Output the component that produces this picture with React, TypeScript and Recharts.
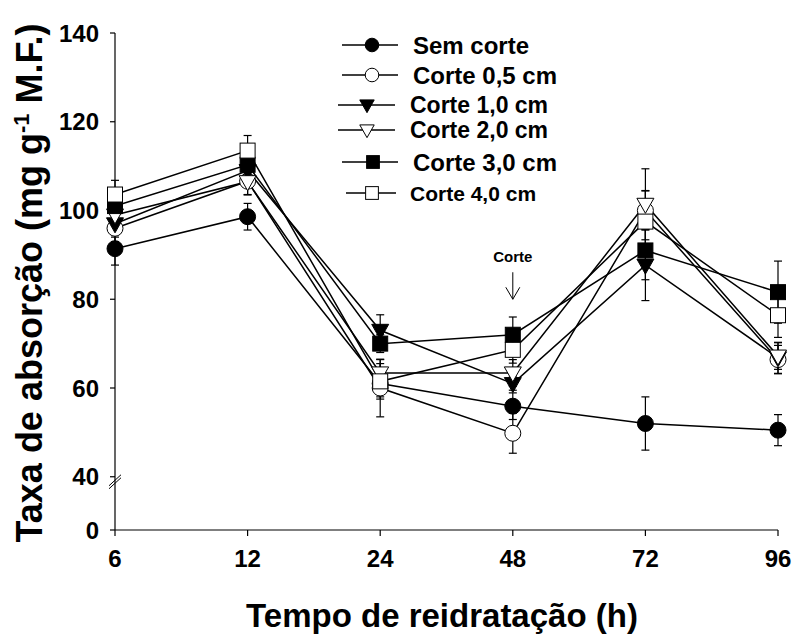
import { LineChart, Line, XAxis, YAxis, ErrorBar, ReferenceDot } from 'recharts';

// tempo de reidratação (h)
const hours = ['6', '12', '24', '48', '72', '96'];

// taxa de absorção (mg g-1 M.F.) por tratamento
const semCorte = [91.4, 98.6, 61, 55.9, 52, 50.5];
const corte05 = [96, 106.6, 60, 49.8, 100, 66.4];
const corte10 = [97, 109, 73, 61, 87.7, 66.8];
const corte20 = [99, 106.5, 63.4, 63.4, 101.4, 67.2];
const corte30 = [101, 110.3, 70, 72, 91, 81.6];
const corte40 = [103.6, 113.5, 61.5, 68.6, 97.5, 76.4];

// erro padrão
const errSemCorte = [3.7, 3, 3, 3, 6, 3.5];
const err05 = [3, 3, 6.5, 4.5, 4.4, 3.2];
const err10 = [3, 3, 3.5, 1.5, 8, 3.5];
const err20 = [3, 3, 3, 3, 8, 3];
const err30 = [3, 3, 2, 4, 6.6, 7];
const err40 = [3.2, 3.4, 4, 3, 7, 5];

const yTicks = [0, 40, 60, 80, 100, 120, 140];

// broken y axis: 0-40 squeezed into 12 units, linear above 40
const BREAK = 40;
const LOW = 12;
const toAxis = (v: number) => (v >= BREAK ? v - BREAK + LOW : (v * LOW) / BREAK);
const fromAxis = (t: number) => (t >= LOW ? t - LOW + BREAK : (t * BREAK) / LOW);

const FONT = '"Liberation Sans", Arial, Helvetica, sans-serif';

type Shape = 'circle' | 'triangle' | 'square';

const series = [
  { key: 's0', err: 'e0', name: 'Sem corte', shape: 'circle' as Shape, filled: true, values: semCorte, errors: errSemCorte },
  { key: 's1', err: 'e1', name: 'Corte 0,5 cm', shape: 'circle' as Shape, filled: false, values: corte05, errors: err05 },
  { key: 's2', err: 'e2', name: 'Corte 1,0 cm', shape: 'triangle' as Shape, filled: true, values: corte10, errors: err10 },
  { key: 's3', err: 'e3', name: 'Corte 2,0 cm', shape: 'triangle' as Shape, filled: false, values: corte20, errors: err20 },
  { key: 's4', err: 'e4', name: 'Corte 3,0 cm', shape: 'square' as Shape, filled: true, values: corte30, errors: err30 },
  { key: 's5', err: 'e5', name: 'Corte 4,0 cm', shape: 'square' as Shape, filled: false, values: corte40, errors: err40 },
];

const data = hours.map((t, i) => {
  const row: Record<string, any> = { t };
  series.forEach(s => {
    row[s.key] = toAxis(s.values[i]);
    row[s.err] = s.errors[i];
  });
  return row;
});

function Marker({ cx, cy, shape, filled, size = 1 }: { cx: number; cy: number; shape: Shape; filled: boolean; size?: number }) {
  const fill = filled ? '#000' : '#fff';
  if (shape === 'circle') {
    return <circle cx={cx} cy={cy} r={8 * size} fill={fill} stroke="#000" strokeWidth={1} />;
  }
  if (shape === 'square') {
    const h = 7.5 * size;
    return <rect x={cx - h} y={cy - h} width={2 * h} height={2 * h} fill={fill} stroke="#000" strokeWidth={1} />;
  }
  const w = 8.5 * size;
  return (
    <path
      d={`M${cx - w},${cy - 6 * size} L${cx + w},${cy - 6 * size} L${cx},${cy + 9 * size} Z`}
      fill={fill} stroke="#000" strokeWidth={1}
    />
  );
}

const YTick = (props: any) => {
  const { x, y, payload } = props;
  const ax = x + 16;
  const label = Math.round(fromAxis(payload.value));
  return (
    <g>
      <text x={x} y={y} dy="0.36em" textAnchor="end" fontFamily={FONT} fontWeight={700} fontSize={24} fill="#000">
        {label}
      </text>
      {payload.value === LOW && (
        <g stroke="#000" strokeWidth={1}>
          <line x1={ax - 6} y1={y + 9} x2={ax + 6} y2={y - 2} />
          <line x1={ax - 6} y1={y + 12} x2={ax + 6} y2={y + 1} />
        </g>
      )}
    </g>
  );
};

const CorteMark = (props: any) => {
  const { cx, cy } = props;
  return (
    <g>
      <text x={cx} y={cy - 37} textAnchor="middle" fontFamily={FONT} fontWeight={700} fontSize={15} fill="#000">
        Corte
      </text>
      <g stroke="#000" strokeWidth={1} fill="none">
        <line x1={cx} y1={cy - 27} x2={cx} y2={cy} />
        <polyline points={`${cx - 7},${cy - 12} ${cx},${cy} ${cx + 7},${cy - 12}`} />
      </g>
    </g>
  );
};

const YTitle = () => (
  <text
    x={42} y={283} transform="rotate(-90 42 283)" textAnchor="middle"
    fontFamily={FONT} fontWeight={700} fontSize={36} fill="#000"
  >
    Taxa de absorção (mg g
    <tspan dy={-13} fontSize={22}>-1</tspan>
    <tspan dy={13}> M.F.)</tspan>
  </text>
);

const XTitle = () => (
  <text x={442} y={627} textAnchor="middle" fontFamily={FONT} fontWeight={700} fontSize={33} fill="#000">
    Tempo de reidratação (h)
  </text>
);

// legend rows: [line x1, marker x, line x2, text x, y, font size]
const legendRows = [
  [342, 372, 398, 413, 45, 24],
  [342, 372, 398, 413, 75, 24],
  [338, 367, 395, 410, 105, 23],
  [338, 367, 395, 410, 130, 23],
  [342, 373, 398, 413, 162, 24],
  [346, 372, 396, 410, 193, 21],
];

export default function App() {
  return (
    <div style={{ position: 'absolute', left: 0, top: 0, width: 793, height: 635, background: '#fff' }}>
      <LineChart width={793} height={635} data={data} margin={{ top: 33, right: 15, left: 0, bottom: 75 }}>
        <XAxis
          dataKey="t" height={30} axisLine={{ stroke: '#000', strokeWidth: 1.2 }}
          tickLine={{ stroke: '#000', strokeWidth: 1.2 }} tickSize={6} tickMargin={14}
          tick={{ fill: '#000', fontSize: 24, fontWeight: 700, fontFamily: FONT }}
          label={{ content: XTitle }}
        />
        <YAxis
          type="number" domain={[0, toAxis(140)]} ticks={yTicks.map(toAxis)} width={115}
          axisLine={{ stroke: '#000', strokeWidth: 1.2 }} tickLine={{ stroke: '#000', strokeWidth: 1.2 }}
          tickSize={5} tickMargin={11} tick={<YTick />} interval={0}
          label={{ content: YTitle }}
        />
        {series.map(s => (
          <Line
            key={s.key} dataKey={s.key} name={s.name} stroke="#000" strokeWidth={1.5}
            isAnimationActive={false}
            dot={(p: any) => <Marker key={`${s.key}-${p.index}`} cx={p.cx} cy={p.cy} shape={s.shape} filled={s.filled} />}
            activeDot={false}
          >
            <ErrorBar dataKey={s.err} width={4} stroke="#000" strokeWidth={1.2} direction="y" isAnimationActive={false} />
          </Line>
        ))}
        <ReferenceDot x="48" y={toAxis(80)} r={0} shape={CorteMark} />
      </LineChart>
      <svg width={793} height={635} style={{ position: 'absolute', left: 0, top: 0, pointerEvents: 'none' }}>
        {series.map((s, i) => {
          const [x1, mx, x2, tx, y, fs] = legendRows[i];
          return (
            <g key={s.key}>
              <line x1={x1} y1={y} x2={x2} y2={y} stroke="#000" strokeWidth={1.5} />
              <Marker cx={mx} cy={y} shape={s.shape} filled={s.filled} size={0.85} />
              <text x={tx} y={y} dy="0.36em" fontFamily={FONT} fontWeight={700} fontSize={fs} fill="#000">
                {s.name}
              </text>
            </g>
          );
        })}
      </svg>
    </div>
  );
}
